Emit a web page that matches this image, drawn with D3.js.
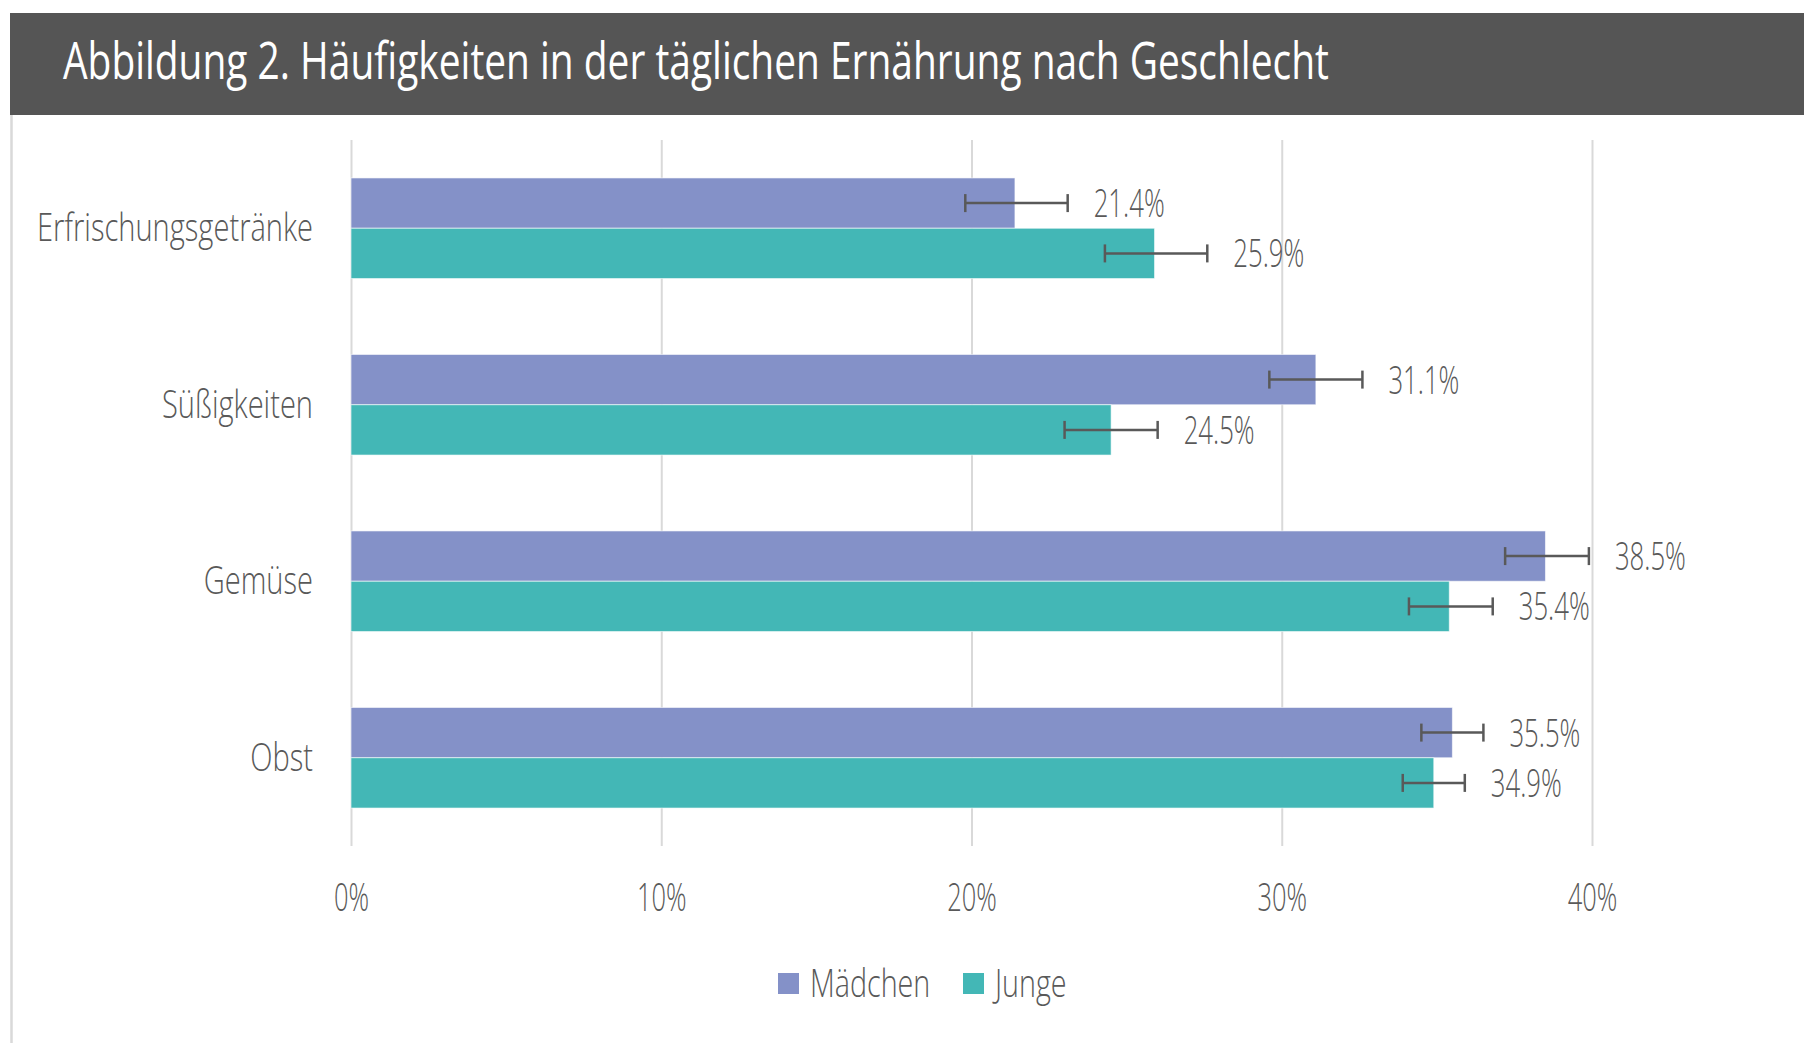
<!DOCTYPE html>
<html><head><meta charset="utf-8">
<script src="https://cdn.jsdelivr.net/npm/d3@7"></script>
<style>
html,body{margin:0;padding:0;background:#fff;}
svg text{font-family:"Open Sans","Noto Sans",sans-serif;}
</style></head>
<body>
<svg id="chart" width="1804" height="1043"></svg>
<script>
const title = "Abbildung 2. Häufigkeiten in der täglichen Ernährung nach Geschlecht";
const categories = ["Erfrischungsgetränke", "Süßigkeiten", "Gemüse", "Obst"];
const seriesNames = ["Mädchen", "Junge"];
const maedchen = [21.4, 31.1, 38.5, 35.5];
const junge = [25.9, 24.5, 35.4, 34.9];
const maedchenLow = [19.8, 29.6, 37.2, 34.5];
const maedchenHigh = [23.1, 32.6, 39.9, 36.5];
const jungeLow = [24.3, 23.0, 34.1, 33.9];
const jungeHigh = [27.6, 26.0, 36.8, 35.9];
const xTicks = [0, 10, 20, 30, 40];
const colors = ["#8491C8", "#43B7B6"];

const W = 1804, H = 1043;
const svg = d3.select("#chart");
function condense(sel, f) {
  sel.each(function(){
    const n = this.getComputedTextLength();
    d3.select(this).attr("textLength", n * f).attr("lengthAdjust", "spacingAndGlyphs");
  });
}

// title bar
svg.append("rect").attr("x", 10).attr("y", 13).attr("width", W - 10).attr("height", 102).attr("fill", "#555555");
const t = svg.append("text").attr("x", 63).attr("y", 79).attr("fill", "#ffffff")
  .attr("font-size", 52).attr("font-weight", 400).text(title);
condense(t, 0.748);
// left frame line
svg.append("line").attr("x1", 11.5).attr("x2", 11.5).attr("y1", 115).attr("y2", H)
  .attr("stroke", "#d9d9d9").attr("stroke-width", 2.5);

const x = d3.scaleLinear().domain([0, 40]).range([351, 1592]);
const y = d3.scaleBand().domain(categories).range([140, 846]).paddingInner(0.43).paddingOuter(0.215);
const ys = d3.scaleBand().domain(seriesNames).range([0, y.bandwidth()]);

// gridlines
const grid = svg.append("g").attr("transform", "translate(0,846)")
  .call(d3.axisBottom(x).tickValues(xTicks).tickSize(-706).tickFormat(""));
grid.select(".domain").remove();
grid.selectAll(".tick line").attr("stroke", "#d9d9d9").attr("stroke-width", 2);

// tick labels
const xl = svg.append("g").attr("transform", "translate(0,911)")
  .call(d3.axisBottom(x).tickValues(xTicks).tickSize(0).tickPadding(0).tickFormat(d => d + "%"));
xl.select(".domain").remove();
xl.selectAll("text").attr("dy", 0).attr("font-size", 38).attr("font-weight", 300)
  .attr("fill", "#595959").attr("font-family", '"Open Sans","Noto Sans",sans-serif');
condense(xl.selectAll("text"), 0.67);

// category labels
const yl = svg.append("g").attr("transform", "translate(313,0)")
  .call(d3.axisLeft(y).tickSize(0).tickPadding(0));
yl.select(".domain").remove();
yl.selectAll("text").attr("dy", "0.33em").attr("font-size", 39).attr("font-weight", 300)
  .attr("fill", "#595959").attr("font-family", '"Open Sans","Noto Sans",sans-serif');
condense(yl.selectAll("text"), 0.745);

const data = [];
categories.forEach((c, i) => {
  data.push({cat: c, s: "Mädchen", v: maedchen[i], lo: maedchenLow[i], hi: maedchenHigh[i], ci: 0});
  data.push({cat: c, s: "Junge", v: junge[i], lo: jungeLow[i], hi: jungeHigh[i], ci: 1});
});

const g = svg.append("g");
g.selectAll("rect.bar").data(data).join("rect").attr("class", "bar")
  .attr("x", x(0)).attr("y", d => y(d.cat) + ys(d.s))
  .attr("width", d => x(d.v) - x(0)).attr("height", ys.bandwidth())
  .attr("fill", d => colors[d.ci]).attr("stroke", "rgba(255,255,255,0.6)").attr("stroke-width", 1);

// error bars
const eb = g.selectAll("g.err").data(data).join("g").attr("class", "err")
  .attr("transform", d => `translate(0,${y(d.cat) + ys(d.s) + ys.bandwidth() / 2})`);
eb.append("line").attr("x1", d => x(d.lo)).attr("x2", d => x(d.hi)).attr("y1", 0).attr("y2", 0);
eb.append("line").attr("x1", d => x(d.lo)).attr("x2", d => x(d.lo)).attr("y1", -9).attr("y2", 9);
eb.append("line").attr("x1", d => x(d.hi)).attr("x2", d => x(d.hi)).attr("y1", -9).attr("y2", 9);
eb.selectAll("line").attr("stroke", "#595959").attr("stroke-width", 2.5);

// value labels
const vl = g.selectAll("text.val").data(data).join("text").attr("class", "val")
  .attr("x", d => x(d.hi) + 26).attr("y", d => y(d.cat) + ys(d.s) + ys.bandwidth() / 2)
  .attr("dy", "0.36em").attr("font-size", 39).attr("font-weight", 300).attr("fill", "#595959")
  .text(d => d.v.toFixed(1) + "%");
condense(vl, 0.66);

// legend
const leg = svg.append("g");
const legX = [778, 963];
seriesNames.forEach((s, i) => {
  leg.append("rect").attr("x", legX[i]).attr("y", 973).attr("width", 21).attr("height", 21).attr("fill", colors[i]);
  const lt = leg.append("text").attr("x", legX[i] + 32).attr("y", 983).attr("dy", "0.36em")
    .attr("font-size", 38).attr("font-weight", 300).attr("fill", "#595959").text(s);
  condense(lt, 0.755);
});
</script>
</body></html>
